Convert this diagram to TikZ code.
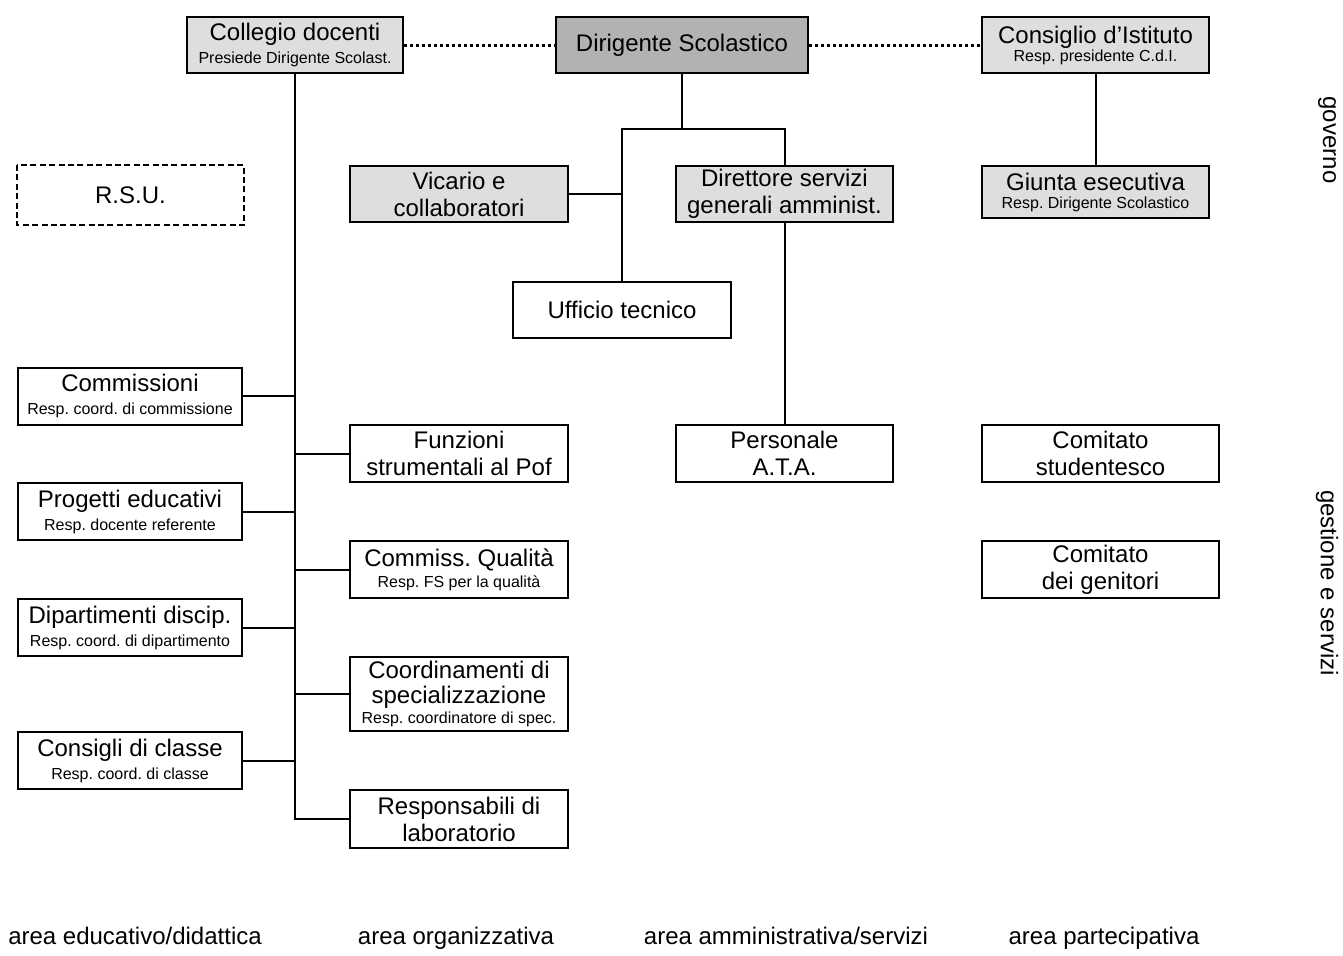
\documentclass[tikz,border=0pt]{standalone}
\usepackage{fontspec}
\setmainfont{Liberation Sans}
\usetikzlibrary{positioning}

\definecolor{lightfill}{gray}{0.87}
\definecolor{darkfill}{gray}{0.70}
\newcommand{\respline}[2][-2pt]{\\[#1]{\fontsize{8}{9}\selectfont #2}}
\frenchspacing

\begin{document}
\begin{tikzpicture}[x=0.5pt,y=-0.5pt,
  org_box/.style={draw,line width=1pt,inner sep=0pt,minimum width=109pt,minimum height=28pt,align=center,font=\fontsize{12}{13.5}\selectfont},
  light_box/.style={org_box,fill=lightfill},
  dark_box/.style={org_box,fill=darkfill},
  link/.style={line width=1pt},
  dot_link/.style={line width=1.5pt,dash pattern=on 1.6pt off 1.4pt},
  area_label/.style={font=\fontsize{12}{14}\selectfont,anchor=base}]

    \useasboundingbox (0,0) rectangle (1343,955);

    % governo
    \node[light_box, minimum width=108pt] (coll) at (295,45) {Collegio docenti\respline{Presiede Dirigente Scolast.}};
    \node[dark_box, minimum width=126pt] (dir) at (682,45) {Dirigente Scolastico};
    \node[light_box, minimum width=113.5pt] (cdi) at (1095.5,45) {Consiglio d'Istituto\respline[-4.5pt]{Resp. presidente C.d.I.}};

    \node[org_box, draw=none, minimum width=112.5pt, minimum height=29pt] (rsu) at (130.5,195) {R.S.U.};
    \draw[line width=1pt, dash pattern=on 3pt off 1.7pt] (rsu.north west) rectangle (rsu.south east);

    \node[light_box] (vic) at (459,194) {Vicario e\\collaboratori};
    \node[light_box, minimum width=108.5pt] (dsga) at (784.5,194) {Direttore servizi\\generali amminist.};
    \node[light_box, minimum width=113.5pt, minimum height=26pt] (giunta) at (1095.5,192) {Giunta esecutiva\respline[-4.5pt]{Resp. Dirigente Scolastico}};

    \node[org_box] (uff) at (622,310) {Ufficio tecnico};

    % gestione e servizi
    \node[org_box, minimum width=112pt, minimum height=28.5pt] (comm) at (130,396) {Commissioni\respline{Resp. coord. di commissione}};
    \node[org_box, minimum width=112pt, minimum height=28.5pt] (prog) at (130,511.5) {Progetti educativi\respline{Resp. docente referente}};
    \node[org_box, minimum width=112pt, minimum height=28.5pt] (dip) at (130,627.5) {Dipartimenti discip.\respline{Resp. coord. di dipartimento}};
    \node[org_box, minimum width=112pt, minimum height=28.5pt] (cons) at (130,760.5) {Consigli di classe\respline{Resp. coord. di classe}};

    \node[org_box, minimum height=28.5pt] (fun) at (459,453.5) {Funzioni\\strumentali al Pof};
    \node[org_box, minimum height=28.5pt] (qual) at (459,569.5) {Commiss. Qualità\respline[-3pt]{Resp. FS per la qualità}};
    \node[org_box, minimum height=37pt] (coord) at (459,694) {Coordinamenti di\\[-1pt]specializzazione\respline[-3.5pt]{Resp. coordinatore di spec.}};
    \node[org_box, minimum height=29pt] (resp) at (459,819) {Responsabili di\\laboratorio};

    \node[org_box, minimum width=108.5pt, minimum height=28.5pt] (ata) at (784.5,453.5) {Personale\\A.T.A.};

    \node[org_box, minimum width=118.5pt, minimum height=28.5pt] (stud) at (1100.5,453.5) {Comitato\\studentesco};
    \node[org_box, minimum width=118.5pt, minimum height=28.5pt] (gen) at (1100.5,569.5) {Comitato\\dei genitori};

    % connections
    \draw[dot_link] (coll) -- (dir);
    \draw[dot_link] (dir) -- (cdi);

    \coordinate (barl) at (622,129);
    \coordinate (barr) at (784.5,129);
    \draw[link] (dir.south) -- (dir.south |- barl);
    \draw[link] (uff.north) -- (barl) -- (barr) -- (dsga.north);
    \draw[link] (vic) -- (vic -| uff);
    \draw[link] (dsga) -- (ata);
    \draw[link] (cdi) -- (giunta);

    \draw[link] (coll) |- (resp);
    \draw[link] (comm) -- (comm -| coll);
    \draw[link] (prog) -- (prog -| coll);
    \draw[link] (dip) -- (dip -| coll);
    \draw[link] (cons) -- (cons -| coll);
    \draw[link] (fun -| coll) -- (fun);
    \draw[link] (qual -| coll) -- (qual);
    \draw[link] (coord -| coll) -- (coord);

    % areas
    \node[area_label] (a1) at (135,944) {area educativo/didattica};
    \node[area_label] (a2) at (456,944) {area organizzativa};
    \node[area_label] (a3) at (786,944) {area amministrativa/servizi};
    \node[area_label] (a4) at (1104,944) {area partecipativa};

    \node[font=\fontsize{12}{14}\selectfont, rotate=-90] (gov) at (1327,140) {governo};
    \node[font=\fontsize{12}{14}\selectfont, rotate=-90] (ges) at (1327,583) {gestione e servizi};
\end{tikzpicture}
\end{document}
